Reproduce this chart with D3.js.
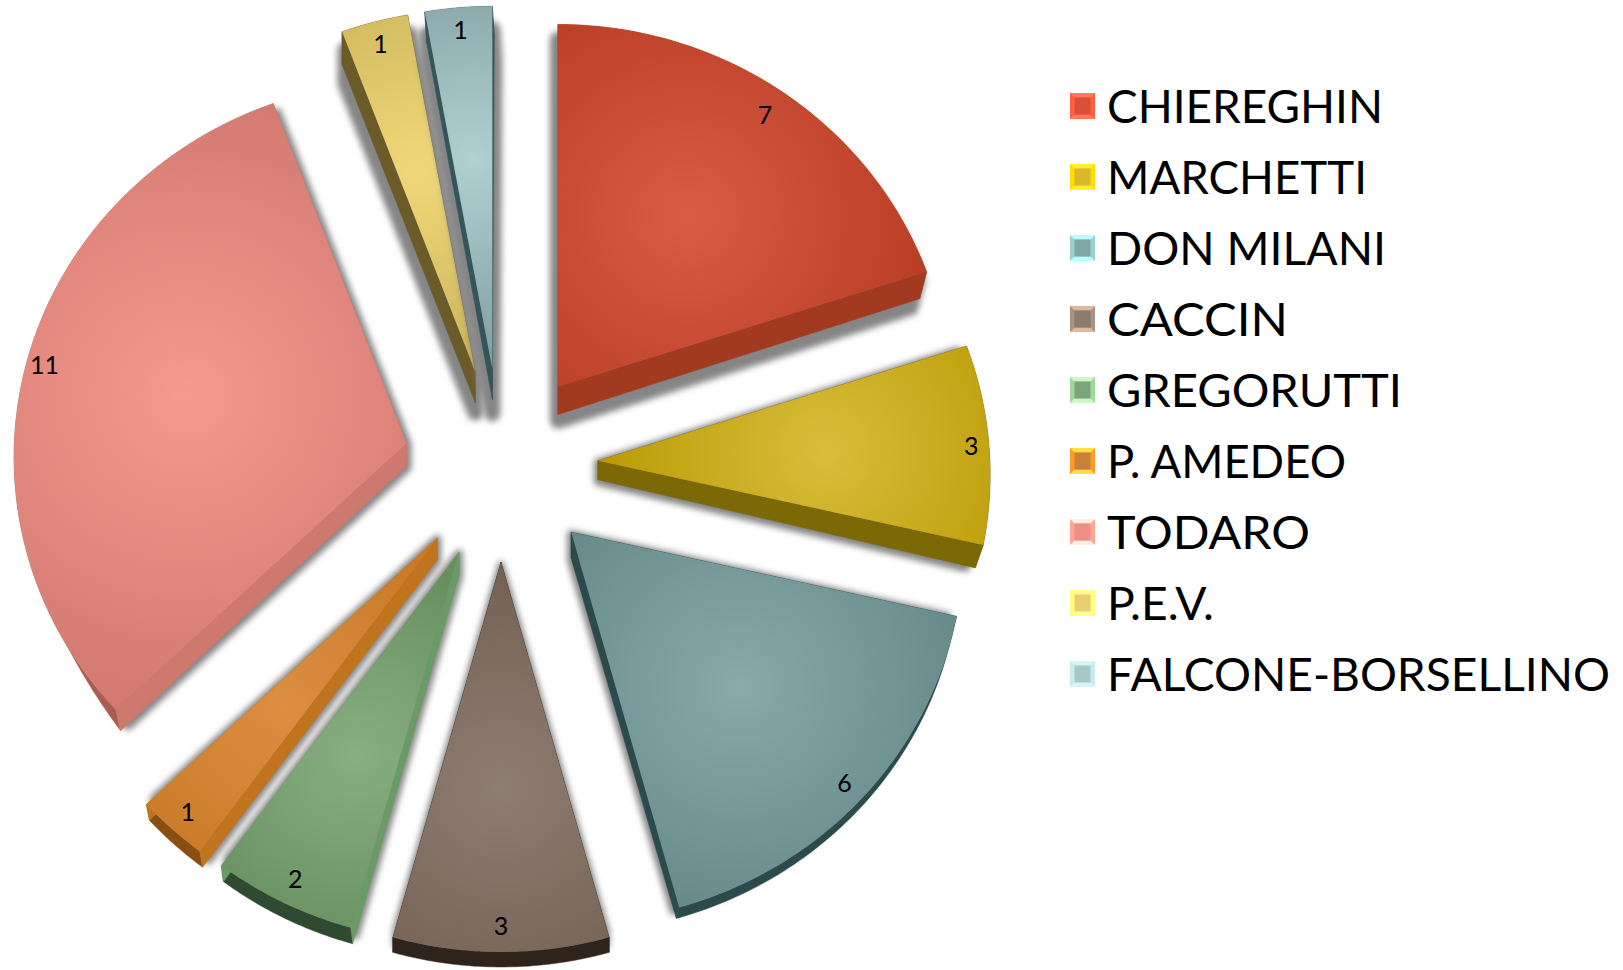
<!DOCTYPE html>
<html><head><meta charset="utf-8">
<style>html,body{margin:0;padding:0;background:#fff;overflow:hidden}svg{display:block}text{font-family:Lato,sans-serif;fill:#000}</style>
<script src="https://cdn.jsdelivr.net/npm/d3@7/dist/d3.min.js"></script>
</head><body><svg id="c" width="1623" height="970"></svg>
<script>
const categories=["CHIEREGHIN","MARCHETTI","DON MILANI","CACCIN","GREGORUTTI","P. AMEDEO","TODARO","P.E.V.","FALCONE-BORSELLINO"];
const values=[7,3,6,3,2,1,11,1,1];
// styling tables (one entry per slice)
const faceLight=["#d95c45","#d9bd3c","#86abaa","#8e7d71","#88af81","#dc8e42","#f6998e","#f0d87a","#afd1d1"];
const faceDark =["#b93e24","#b89800","#658788","#715e51","#68905f","#c97a26","#d27a70","#cdb55a","#84a1a3"];
const wallSide =["#a23a20","#7d6806","#2c4a4c","#2e241c","#6a9a66","#c0741e","#cf786e","#6b5b28","#34555a"];
const wallRim  =["#a23a20","#6f5c00","#2c4a4c","#2e241c","#2f4a30","#8a4f10","#a85c52","#6b5b28","#34555a"];
const depthApex=[28,19,26,15,23,22,23,31,31];
const depthRim =[27,23,11,15,16,16,21,33,31];
const dxStart  =[0,-4,-3,0,2,3,5,0,2];
const dxEnd    =[-7,-8,-3,0,2,3,5,0,2];
const rimSpan  =[1,1,1,1,1,1,0.1,1,1];
const shadowX  =[8,4,4,3,4,4,5,8,8];
const shadowY  =[14,6,6,5,5,5,6,18,22];
const labelT   =[0.925,0.955,0.94,0.93,0.93,0.94,0.955,0.94,0.94];
const gradSpan =[0.62,0.62,0.62,0.62,0.5,0.5,0.8,0.5,0.5];
const legendWidth=[276,260,279,181,295,239,203,107,503];
const swatchEdge=["#ff6040","#ffdd00","#9fd0d0","#ab9180","#a0d8a0","#ff9a28","#ffa595","#ffff80","#c8ecec"];
const swatchHi  =["#ff7a55","#ffee33","#b8ffff","#dcb9a0","#d0f5c8","#ffe040","#fff0e0","#ffff90","#d8f4f4"];
const swatchIn  =["#d8503a","#d9b92a","#7fa7a6","#8c7a6c","#7aa57a","#c8813a","#f09085","#e8d070","#a6c8c8"];

const svg=d3.select("#c"), defs=svg.append("defs");
const cx=501,cy=465,explode=97,rx=392,ry=375.5,persp=0.037;
const pie=d3.pie().sort(null).value(d=>d)(values);
const line=d3.line();
const proj=(a,t)=>{const s=Math.sin(a),c=Math.cos(a),den=1+persp*c;return [t*rx*s/den,-t*ry*c/den];};
const N=60;
const arcAngles=d=>d3.range(0,N+1).map(k=>d.startAngle+(d.endAngle-d.startAngle)*k/N);

pie.forEach((d,i)=>{
  const mid=(d.startAngle+d.endAngle)/2;
  const ax=cx+explode*Math.sin(mid), ay=cy-explode*Math.cos(mid);
  const P=(a,t)=>{const p=proj(a,t);return [ax+p[0],ay+p[1]];};
  const angles=arcAngles(d);
  const rim=angles.map(a=>P(a,1));
  const apex=[ax,ay];
  const outline=[apex,...rim];
  // back point of a rim sample at fraction u along the arc
  const back=(q,u)=>{
    const span=rimSpan[i], fade=span<1?Math.max(0,1-u/span):1;
    return [q[0]+(dxStart[i]+(dxEnd[i]-dxStart[i])*u)*fade, q[1]+depthRim[i]*fade];
  };
  const backApex=[ax,ay+depthApex[i]];
  const g=svg.append("g");
  const grad=defs.append("radialGradient").attr("id","g"+i).attr("gradientUnits","userSpaceOnUse");
  const gc=P(mid,0.58);
  grad.attr("cx",gc[0]).attr("cy",gc[1]).attr("r",rx*gradSpan[i]);
  grad.append("stop").attr("offset","0").attr("stop-color",faceLight[i]);
  grad.append("stop").attr("offset","1").attr("stop-color",faceDark[i]);
  // soft drop shadow: the solid pulled in at the rim, then offset and blurred
  const f=defs.append("filter").attr("id","s"+i).attr("x","-40%").attr("y","-40%").attr("width","180%").attr("height","180%");
  f.append("feGaussianBlur").attr("stdDeviation",3);
  const inner=angles.map(a=>P(a,0.975));
  const hull=[apex,backApex,...inner,...inner.map((q,k)=>back(q,k/N))];
  g.append("path").attr("d",line(d3.polygonHull(hull))+"Z").attr("fill","#858585")
    .attr("stroke","#858585").attr("stroke-width",shadowX[i]*2)
    .attr("stroke-linejoin","round").attr("transform",`translate(0,${shadowY[i]-shadowX[i]})`).attr("filter",`url(#s${i})`);
  // walls
  const quad=(pts,col)=>g.append("path").attr("d",line(pts)+"Z").attr("fill",col).attr("stroke",col).attr("stroke-width",0.5);
  const rimBack=rim.map((q,k)=>back(q,k/N));
  quad([...rim,...rimBack.slice().reverse()],wallRim[i]);
  quad([apex,rim[0],rimBack[0],backApex],wallSide[i]);
  quad([apex,rim[N],rimBack[N],backApex],wallSide[i]);
  g.append("path").attr("d",line(outline)+"Z").attr("fill",`url(#g${i})`);
});
// labels on top
pie.forEach((d,i)=>{
  const mid=(d.startAngle+d.endAngle)/2;
  const ax=cx+explode*Math.sin(mid), ay=cy-explode*Math.cos(mid);
  const p=proj(mid,labelT[i]);
  svg.append("text").attr("x",ax+p[0]).attr("y",ay+p[1]).attr("text-anchor","middle").attr("dominant-baseline","central")
    .style("font-size","25px").text(values[i]);
});
// legend
const ly=d3.scalePoint().domain(categories).range([106,674]);
categories.forEach((c,i)=>{
  const y=ly(c), x0=1070,x1=1095,y0=y-13,y1=y+13,n=4.5;
  const g=svg.append("g");
  g.append("rect").attr("x",x0).attr("y",y0).attr("width",x1-x0).attr("height",y1-y0).attr("fill",swatchEdge[i]);
  g.append("path").attr("d",line([[x0,y0],[x1,y0],[x1-n,y0+n],[x0+n,y0+n]])+"Z").attr("fill",swatchHi[i]);
  g.append("path").attr("d",line([[x0,y1],[x1,y1],[x1-n,y1-n],[x0+n,y1-n]])+"Z").attr("fill",swatchHi[i]);
  g.append("rect").attr("x",x0+n).attr("y",y0+n).attr("width",x1-x0-2*n).attr("height",y1-y0-2*n).attr("fill",swatchIn[i]);
  svg.append("text").attr("x",1107).attr("y",y+17).style("font-size","47px")
    .attr("textLength",legendWidth[i]).attr("lengthAdjust","spacingAndGlyphs").text(c);
});
</script></body></html>
